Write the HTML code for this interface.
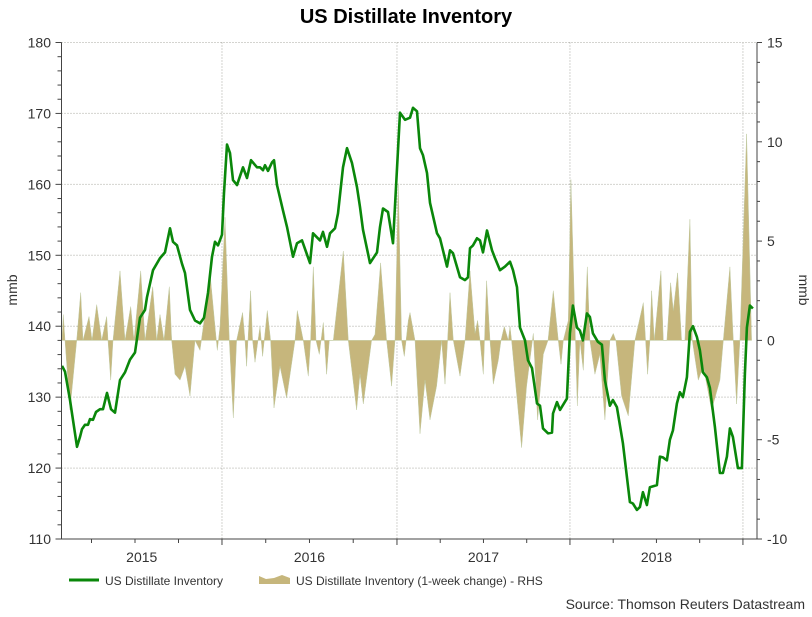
<!DOCTYPE html>
<html><head><meta charset="utf-8">
<style>
body{margin:0;background:#fff;font-family:"Liberation Sans",sans-serif;}
svg text{font-family:"Liberation Sans",sans-serif;}
</style></head>
<body>
<svg id="chart" width="812" height="612" xmlns="http://www.w3.org/2000/svg">
<text x="406" y="23" text-anchor="middle" font-size="20" font-weight="bold" fill="#000">US Distillate Inventory</text>
<g id="grid"></g>
<g id="bars"></g>
<g id="line"></g>
<g id="axes"></g>
<text transform="translate(17,290) rotate(-90)" text-anchor="middle" font-size="14" fill="#333">mmb</text>
<text transform="translate(799,290) rotate(90)" text-anchor="middle" font-size="14" fill="#333">mmb</text>
<g>
<line x1="69" y1="580" x2="99" y2="580" stroke="#0a870a" stroke-width="3"/>
<text x="105" y="585" font-size="12" fill="#333">US Distillate Inventory</text>
<polygon points="259,584 259,576 266,579 274,578 282,575 290,578 290,584" fill="#c6b67c"/>
<text x="296" y="585" font-size="12" fill="#333">US Distillate Inventory (1-week change) - RHS</text>
</g>
<text x="805" y="609" text-anchor="end" font-size="14" fill="#333">Source: Thomson Reuters Datastream</text>
</svg>
<script>
const lineWeeks=[0,0.9,2.4,4.5,5.4,6,6.9,7.8,8.4,9.3,10.2,11.4,12.3,13.5,14.7,15.9,17.4,18.9,20.4,21.9,23.4,24.9,25.5,27.3,29.4,30.9,32.4,33.3,34.5,36,36.9,38.4,39.9,41.4,42.6,43.8,45,45.9,46.8,48,48.6,49.5,50.4,51.3,52.5,54.3,55.5,56.7,58.5,59.4,60.3,60.9,61.8,63,63.6,64.5,66.3,67.5,69.3,70.5,72,74.4,75.3,77.4,78.3,79.5,80.4,81.9,82.8,84.3,85.5,87,88.5,89.4,90.3,92.4,94.5,95.4,96.3,97.8,99.3,101.4,102.9,104.4,105.3,106.5,107.4,108.3,109.5,110.4,112.5,113.4,115.5,116.4,117.3,119.4,120.9,121.8,122.4,123.3,124.5,125.4,126.3,127.5,129,129.9,131.4,132.9,134.4,135.3,136.5,137.4,138.9,139.8,141,142.5,143.4,144.3,145.8,147,147.3,148.5,149.4,151.5,152.4,153.3,154.5,155.4,156.3,157.5,158.4,159.3,160.8,162,162.9,164.4,165.3,166.5,168.3,170.4,171.3,172.5,173.4,174.3,175.5,176.4,178.5,179.4,180.3,181.5,182.4,183.3,184.5,185.4,186.3,187.5,188.4,189.3,190.5,191.4,192.3,193.5,194.4,195.9,197.4,198.3,199.5,200.4,201.3,202.8,204,204.9,205.5,206.4,207.3];
const inventory=[134.4,133.6,129.6,123,124.4,125.5,126.1,126.1,126.9,126.8,127.9,128.3,128.3,130.6,128.3,127.8,132.4,133.5,135.3,136.3,141.2,142.3,144.1,147.9,149.6,150.4,153.8,151.9,151.4,148.8,147.5,142.3,140.8,140.4,141.2,144.7,149.8,151.9,151.4,152.9,158.8,165.6,164.4,160.6,159.9,162.4,160.9,163.4,162.4,162.4,162,162.7,161.9,163.1,163.4,159.9,156.3,154,149.8,151.7,152.1,148.9,153.1,152.1,153.3,151.2,153.1,153.8,155.9,162.4,165.1,163,159.6,156.8,153.6,148.9,150.4,154,156.6,156.1,151.7,170.1,169.1,169.4,170.8,170.3,165.1,164.1,161.6,157.4,153.1,152.4,148.4,150.7,150.3,146.9,146.5,146.9,151,151.4,152.4,152.1,150.4,153.5,150.7,149.6,147.9,148.4,149.1,147.9,145.5,139.8,138,135.2,134.1,129.1,128.8,125.6,124.9,125,127.7,129.3,128.2,129.8,139,142.9,139.8,139.4,138,141.8,141.3,139,137.8,137.4,132.4,128.8,129.6,128.6,123.5,115.2,115,114.1,114.5,116.6,114.8,117.3,117.6,121.6,121.5,121.1,124,125.3,129.1,130.7,130,132.8,139.2,140,138.5,136.6,133.5,132.8,131.3,125.8,119.3,119.3,121.6,125.6,124.4,120,120,133.3,139.8,142.9,142.5];
const barWeeks=[0,0.4,0.9,2.4,4.4,5.6,6.3,8.1,9,10.4,11.9,13.4,13.8,14.6,15.3,17.4,18.9,20.6,21.6,23.6,24.9,27.2,28.4,29.4,30.6,32.2,32.9,33.9,35.4,36.9,38.4,39.9,41.4,42.4,44.4,45.9,46.6,47.4,48.9,50.2,51.4,52.4,54.2,54.9,55.4,56.6,57.2,57.9,58.8,59.4,60.2,61.6,62.6,63.6,65.4,67.4,69.9,70.6,72.4,73.9,74.6,75.4,76.2,77.2,78.4,79.4,80.2,81.4,84.4,85.9,88.4,89.4,90.4,92.9,93.9,95.6,97.4,98.9,99.9,100.9,101.9,102.7,103.9,104.4,105.9,107.4,108.9,110.4,112.4,113.9,114.9,115.7,116.4,117.4,119.4,120.9,122.4,123.9,124.7,125.4,126.4,127.4,128.4,129.4,130.9,131.7,132.7,133.9,134.4,134.9,137.9,139.4,141.4,142.7,144.4,145.8,147.4,148.9,149.7,150.4,151.9,152.7,153.9,154.6,155.4,156.4,157.6,158.4,159.9,161.4,162.9,164.4,165.4,166.2,167.9,169.9,171.9,174.4,175.1,175.7,176.4,176.9,177.7,179.7,180.4,181.5,182.6,183.4,184.7,185.9,186.9,188.4,189.1,190.9,192.4,194.9,197.4,198.4,200.4,201.4,202.4,203.4,205.4,206.9];
const weeklyChange=[0,1.3,0,-3.5,0,2.4,0,1.2,0,1.8,0,1.2,0,-2,0,3.5,0,1.7,0,3.5,0,2.7,0,1.3,0,2.7,0,-1.7,-2,-1.3,-2.8,0,-0.5,0.7,3.4,0.7,-0.5,0.7,6.2,0,-3.9,0,1.4,0,-1.3,2.5,0,-1.1,0,0.7,-0.8,1.5,0,-3.4,-1.3,-2.9,0,1.5,0,-1.8,0,3.7,0,-0.7,0.9,-1.7,0,0,4.5,0,-3.5,-1.7,-3.2,0,0.3,3.9,0,-2.3,0,7.9,0,-0.8,1.0,1.4,0,-4.7,-2,-4,-2.3,0,-2.2,0,2.4,0,-1.8,0,3.5,0.35,1.0,0,-1.7,3.0,0,-2.2,-1,0,0.7,0,0.7,0,-5.4,-2.3,0.35,-4,-0.7,0,2.5,0,-1.2,0,1,8.1,1,-3.3,0,-1.5,3.7,0,-1.7,-0.7,-4,0,0.35,0,-2.8,-3.8,0,1.9,0,-1.7,0,2.5,0,3.5,0,0,2.9,1.5,3.4,0,0,6.1,0,-2,-1.3,-3.5,-2,0,3.7,0,-3.2,0,10.4,0];
const leftTicks=[110,120,130,140,150,160,170,180];
const rightTicks=[-10,-5,0,5,10,15];
const yearStarts=[-4.2,48,100.5,152.4,204.3];
const yearLabels=["2015","2016","2017","2018"];

const X0=62,XPW=3.333,PL=61.5,PR=757,PT=42.5,PB=539;
const xs=w=>X0+w*XPW;
const yL=v=>PB-(v-110)/70*(PB-PT);
const yR=v=>PB-(v+10)/25*(PB-PT);
const NS='http://www.w3.org/2000/svg';
function mk(tag,parent){const e=document.createElementNS(NS,tag);parent.appendChild(e);return e;}
const grid=document.getElementById('grid'),axes=document.getElementById('axes');
leftTicks.forEach(v=>{if(v===110)return;const l=mk('line',grid);


l.setAttribute('x1',PL);l.setAttribute('x2',PR);l.setAttribute('y1',yL(v));l.setAttribute('y2',yL(v));
l.setAttribute('stroke','#a8a8a0');l.setAttribute('stroke-dasharray','1,2');});
yearStarts.forEach(w=>{const x=xs(w);if(x<PL+2)return;const l=mk('line',grid);


l.setAttribute('x1',x);l.setAttribute('x2',x);l.setAttribute('y1',PT);l.setAttribute('y2',PB);
l.setAttribute('stroke','#a8a8a0');l.setAttribute('stroke-dasharray','1,2');});
// bars area
let d='M'+xs(barWeeks[0])+','+yR(0);
barWeeks.forEach((w,i)=>{d+=' L'+xs(w).toFixed(1)+','+yR(weeklyChange[i]).toFixed(1);});
d+=' L'+xs(barWeeks[barWeeks.length-1])+','+yR(0)+'Z';
const ba=mk('path',document.getElementById('bars'));


ba.setAttribute('d',d);ba.setAttribute('fill','#c6b67c');ba.setAttribute('stroke','#bfc9a0');ba.setAttribute('stroke-width','0.5');
// line
const pl=mk('polyline',document.getElementById('line'));


pl.setAttribute('points',lineWeeks.map((w,i)=>xs(w).toFixed(1)+','+yL(inventory[i]).toFixed(1)).join(' '));
pl.setAttribute('fill','none');pl.setAttribute('stroke','#0a870a');pl.setAttribute('stroke-width','2.6');pl.setAttribute('stroke-linejoin','round');
// axes lines
[[PL,PT,PL,PB],[PR,PT,PR,PB],[PL,PB,PR,PB]].forEach(a=>{const l=mk('line',axes);


l.setAttribute('x1',a[0]);l.setAttribute('y1',a[1]);l.setAttribute('x2',a[2]);l.setAttribute('y2',a[3]);l.setAttribute('stroke','#444');});
for(let v=110;v<=180;v+=2){const maj=v%10===0;const l=mk('line',axes);


l.setAttribute('x1',PL-(maj?6:4));l.setAttribute('x2',PL);l.setAttribute('y1',yL(v));l.setAttribute('y2',yL(v));l.setAttribute('stroke','#444');}
leftTicks.forEach(v=>{const t=mk('text',axes);


t.setAttribute('x',51);t.setAttribute('y',yL(v)+5);t.setAttribute('text-anchor','end');t.setAttribute('font-size','14');t.setAttribute('fill','#333');t.textContent=v;});
for(let v=-10;v<=15;v++){const maj=v%5===0;const l=mk('line',axes);


l.setAttribute('x1',PR);l.setAttribute('x2',PR+(maj?5:3));l.setAttribute('y1',yR(v));l.setAttribute('y2',yR(v));l.setAttribute('stroke','#444');}
rightTicks.forEach(v=>{const t=mk('text',axes);


t.setAttribute('x',767);t.setAttribute('y',yR(v)+5);t.setAttribute('font-size','14');t.setAttribute('fill','#333');t.textContent=v;});
for(let i=0;i<yearStarts.length-1;i++){for(let q=0;q<4;q++){const x=xs(yearStarts[i]+(yearStarts[i+1]-yearStarts[i])*q/4);if(x<PL+1)continue;
const l=mk('line',axes);


l.setAttribute('x1',x);l.setAttribute('x2',x);l.setAttribute('y1',PB);l.setAttribute('y2',PB+(q===0?6:4));l.setAttribute('stroke','#444');}}
{const x=xs(yearStarts[4]);const l=mk('line',axes);


l.setAttribute('x1',x);l.setAttribute('x2',x);l.setAttribute('y1',PB);l.setAttribute('y2',PB+6);l.setAttribute('stroke','#444');}
yearLabels.forEach((s,i)=>{const a=Math.max(PL,xs(yearStarts[i])),b=xs(yearStarts[i+1]);const t=mk('text',axes);


t.setAttribute('x',(a+b)/2);t.setAttribute('y',562);t.setAttribute('text-anchor','middle');t.setAttribute('font-size','14');t.setAttribute('fill','#333');t.textContent=s;});
</script>
</body></html>
